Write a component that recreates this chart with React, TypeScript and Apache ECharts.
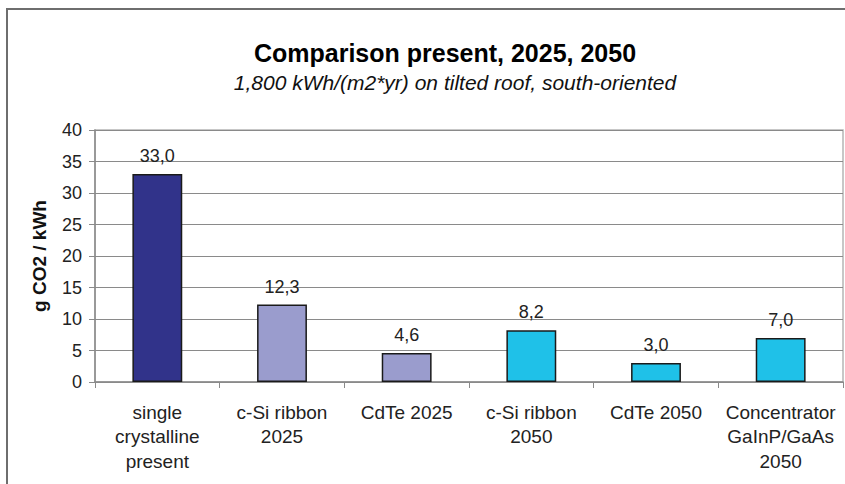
import React, { useEffect, useRef } from "react";
import * as echarts from "echarts";

const categories = [
  "single\ncrystalline\npresent",
  "c-Si ribbon\n2025",
  "CdTe 2025",
  "c-Si ribbon\n2050",
  "CdTe 2050",
  "Concentrator\nGaInP/GaAs\n2050",
];
const values = [33.0, 12.3, 4.6, 8.2, 3.0, 7.0];
const yTicks = { min: 0, max: 40, interval: 5 };
const titleText = "Comparison present, 2025, 2050";
const subtitleText = "1,800 kWh/(m2*yr) on tilted roof, south-oriented";
const yAxisName = "g CO2 / kWh";

const barColors = ["#31338A", "#9A9CCD", "#9A9CCD", "#1FC1E8", "#1FC1E8", "#1FC1E8"];
const FONT = "Liberation Sans, Arial, sans-serif";

export default function App() {
  const ref = useRef<HTMLDivElement>(null);
  useEffect(() => {
    if (!ref.current) return;
    const chart = echarts.init(ref.current, null, { renderer: "svg" });
    chart.setOption({
      animation: false,
      backgroundColor: "#ffffff",
      grid: {
        left: 95,
        right: 2,
        top: 130,
        bottom: 102,
        show: true,
        borderColor: "#b5b5b5",
        borderWidth: 1.5,
      },
      graphic: [
        {
          type: "line",
          shape: { x1: 6, y1: 9, x2: 845, y2: 9 },
          style: { stroke: "#6e6e6e", lineWidth: 2 },
        },
        {
          type: "line",
          shape: { x1: 7, y1: 8, x2: 7, y2: 484 },
          style: { stroke: "#6e6e6e", lineWidth: 2 },
        },
        {
          type: "text",
          x: 445,
          y: 53,
          style: {
            text: titleText,
            fill: "#000",
            font: `bold 25px ${FONT}`,
            textAlign: "center",
            textVerticalAlign: "middle",
          },
        },
        {
          type: "text",
          x: 455,
          y: 82,
          style: {
            text: subtitleText,
            fill: "#111",
            font: `italic 21px ${FONT}`,
            textAlign: "center",
            textVerticalAlign: "middle",
          },
        },
      ],
      xAxis: {
        type: "category",
        data: categories,
        axisLine: { lineStyle: { color: "#8a8a8a", width: 1.5 } },
        axisTick: { show: true, length: 6, lineStyle: { color: "#8a8a8a" } },
        axisLabel: {
          color: "#222",
          fontSize: 19,
          fontFamily: FONT,
          lineHeight: 24.5,
          margin: 18,
          interval: 0,
        },
      },
      yAxis: {
        type: "value",
        min: yTicks.min,
        max: yTicks.max,
        interval: yTicks.interval,
        name: yAxisName,
        nameLocation: "middle",
        nameGap: 46,
        nameTextStyle: {
          color: "#111",
          fontSize: 19,
          fontWeight: "bold",
          fontFamily: FONT,
        },
        axisLine: { show: true, lineStyle: { color: "#8a8a8a", width: 1.5 } },
        axisTick: { show: true, length: 6, lineStyle: { color: "#8a8a8a" } },
        axisLabel: { color: "#222", fontSize: 18, fontFamily: FONT, margin: 13 },
        splitLine: { show: true, lineStyle: { color: "#8a8a8a", width: 1 } },
      },
      series: [
        {
          type: "bar",
          barWidth: "40%",
          data: values.map((v, i) => ({
            value: v,
            itemStyle: { color: barColors[i] },
          })),
          itemStyle: { borderColor: "#1a1a1a", borderWidth: 1.5 },
          label: {
            show: true,
            position: "top",
            distance: 9,
            color: "#222",
            fontSize: 18,
            fontFamily: FONT,
            formatter: (p: any) => Number(p.value).toFixed(1).replace(".", ","),
          },
        },
      ],
    });
    return () => chart.dispose();
  }, []);
  return (
    <div
      ref={ref}
      style={{ position: "absolute", left: 0, top: 0, width: 845, height: 484 }}
    />
  );
}
